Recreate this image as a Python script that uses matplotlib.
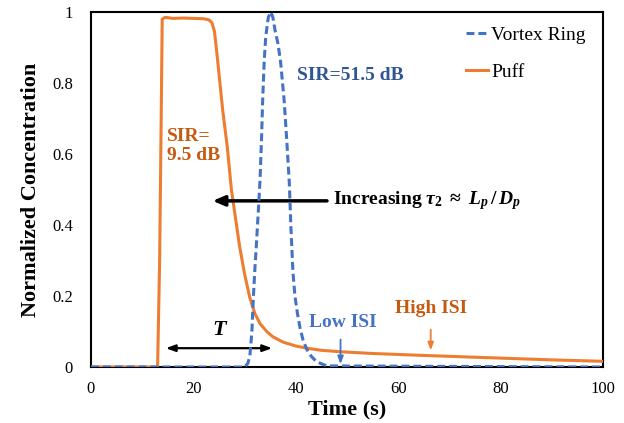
import matplotlib
matplotlib.use("Agg")
import matplotlib.pyplot as plt

plt.rcParams['font.family'] = ['Liberation Serif', 'DejaVu Serif']
plt.rcParams['mathtext.fontset'] = 'custom'
plt.rcParams['mathtext.rm'] = 'Liberation Serif:bold'
plt.rcParams['mathtext.it'] = 'Liberation Serif:bold:italic'
plt.rcParams['mathtext.bf'] = 'Liberation Serif:bold'

# values
vortex_t = [0, 30.0, 30.6, 31.0, 31.4, 31.7, 32.0, 32.3, 32.7, 33.0, 33.3, 33.5, 33.8,
            34.1, 34.6, 35.1, 35.5, 35.9, 36.5, 37.0, 37.7, 38.2, 38.7, 39.0, 39.4,
            39.8, 40.3, 40.8, 41.4, 42.1, 43.0, 44.0, 46.0, 100]
vortex_c = [0, 0, 0.01, 0.03, 0.1, 0.2, 0.28, 0.35, 0.45, 0.53, 0.65, 0.75, 0.86,
            0.93, 0.985, 1.0, 0.985, 0.95, 0.91, 0.86, 0.75, 0.64, 0.52, 0.4, 0.27,
            0.2, 0.15, 0.11, 0.075, 0.05, 0.03, 0.015, 0.003, 0]

puff_t = [0, 13.0, 13.4, 13.7, 13.9, 14.5, 16, 18, 20, 22, 23.0, 23.6, 24.1, 24.6,
          25.7, 26.6, 27.4, 28.2, 29.0, 30.0, 31.0, 32.0, 33.0, 34.3, 35.5, 37.5,
          40.0, 42.1, 45.0, 48.6, 55, 66, 80, 90, 100]
puff_c = [0, 0, 0.3, 0.7, 0.98, 0.985, 0.982, 0.983, 0.982, 0.981, 0.978, 0.97, 0.945,
          0.88, 0.724, 0.62, 0.5, 0.42, 0.34, 0.26, 0.195, 0.15, 0.122, 0.1, 0.085,
          0.07, 0.059, 0.053, 0.047, 0.043, 0.038, 0.032, 0.025, 0.02, 0.016]

blue = '#4472C4'
dark_blue = '#2F5597'
orange = '#ED7D31'
dark_orange = '#C55A11'

fig = plt.figure(figsize=(6.24, 4.23), dpi=100)
ax = fig.add_axes([0.1458, 0.1324, 0.8212, 0.8392])

ax.plot(puff_t, puff_c, color=orange, lw=2.2, label='Puff', zorder=3)
ax.plot(vortex_t, vortex_c, color=blue, lw=2.2, ls=(0, (2.6, 1.3)), label='Vortex Ring', zorder=4)

ax.set_xlim(0, 100)
ax.set_ylim(0, 1)
ax.set_xticks([0, 20, 40, 60, 80, 100])
ax.set_yticks([0, 0.2, 0.4, 0.6, 0.8, 1])
ax.set_yticklabels(['0', '0.2', '0.4', '0.6', '0.8', '1'])
ax.tick_params(axis='y', length=0, labelsize=12, pad=13)
ax.tick_params(axis='x', length=0, labelsize=12, pad=10)
for s in ax.spines.values():
    s.set_linewidth(1.5)
    s.set_color('black')

ax.set_xlabel('Time (s)', fontsize=16, fontweight='bold', labelpad=2)
ax.set_ylabel('Normalized Concentration', fontsize=16, fontweight='bold', labelpad=8)

h, l = ax.get_legend_handles_labels()
ax.legend(h[::-1], l[::-1], loc='upper right', frameon=False, fontsize=14,
          handlelength=1.15, handletextpad=0.15, labelspacing=1.0,
          bbox_to_anchor=(1.0, 1.01))

ax.text(40.2, 0.82, 'SIR=51.5 dB', color=dark_blue, fontsize=14, fontweight='bold',
        ha='left', va='center')
ax.text(14.8, 0.622, 'SIR=\n9.5 dB', color=dark_orange, fontsize=14, fontweight='bold',
        ha='left', va='center', linespacing=1.16)

ax.annotate('', xy=(23.2, 0.468), xytext=(46.6, 0.468),
            arrowprops=dict(arrowstyle='-|>,head_length=0.7,head_width=0.3',
                            color='black', lw=2.5))
ax.text(47.2, 0.468, r'Increasing $\tau_2\ \approx\ L_p\,/\,D_p$', fontsize=14,
        fontweight='bold', ha='left', va='center')

ax.annotate('', xy=(14.05, 0.053), xytext=(35.9, 0.053),
            arrowprops=dict(arrowstyle='<|-|>,head_length=0.55,head_width=0.2',
                            color='black', lw=1.6))
ax.text(25.0, 0.103, 'T', fontsize=16, fontweight='bold', fontstyle='italic',
        ha='center', va='center')

ax.text(49.1, 0.124, 'Low ISI', color=blue, fontsize=14, fontweight='bold',
        ha='center', va='center')
ax.annotate('', xy=(48.7, 0.0), xytext=(48.7, 0.085),
            arrowprops=dict(arrowstyle='-|>,head_length=0.45,head_width=0.17',
                            color=blue, lw=1.3))

ax.text(66.3, 0.166, 'High ISI', color=dark_orange, fontsize=14, fontweight='bold',
        ha='center', va='center')
ax.annotate('', xy=(66.3, 0.039), xytext=(66.3, 0.113),
            arrowprops=dict(arrowstyle='-|>,head_length=0.45,head_width=0.17',
                            color=orange, lw=1.3))

fig.savefig('out.png', dpi=100)
